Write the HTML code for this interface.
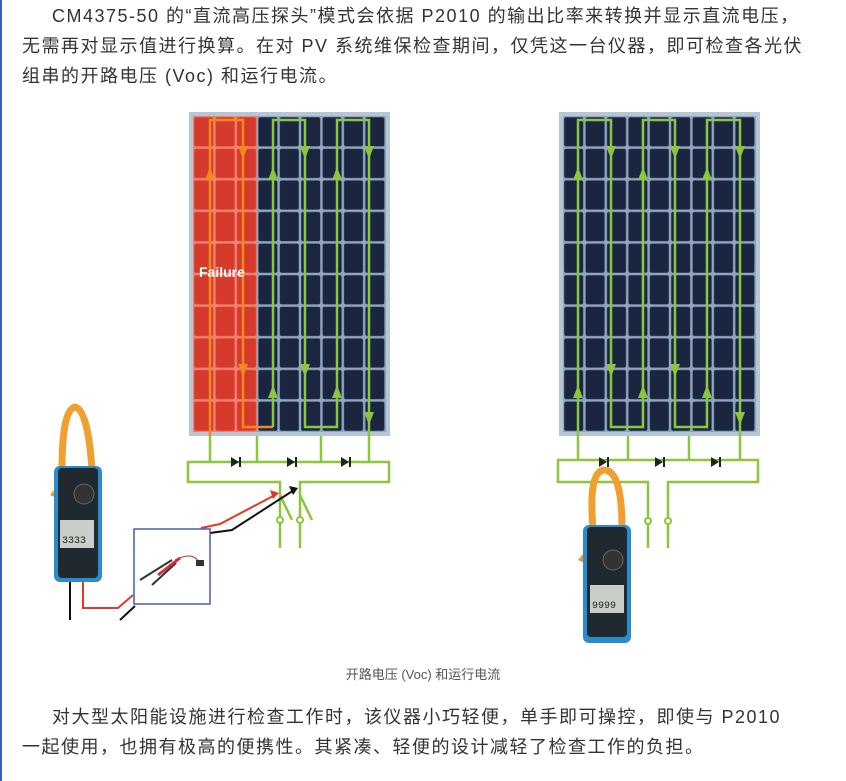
<!DOCTYPE html>
<html><head><meta charset="utf-8"><style>
body{margin:0;width:846px;height:781px;background:#fff;position:relative;overflow:hidden;font-family:"Liberation Sans","Noto Sans CJK SC",sans-serif;color:#333}
.bar{position:absolute;left:0;top:0;width:2px;height:781px;background:#3b5fc0}
p{position:absolute;left:22px;margin:0;font-size:18px;line-height:30px;letter-spacing:1.5px;white-space:nowrap}
.cap{position:absolute;top:664px;left:0;width:846px;text-align:center;font-size:13px;color:#555}
</style></head><body>
<div class="bar"></div>
<p style="top:1px;width:820px">&emsp;&ensp;CM4375-50 的“直流高压探头”模式会依据 P2010 的输出比率来转换并显示直流电压，<br>无需再对显示值进行换算。在对 PV 系统维保检查期间，仅凭这一台仪器，即可检查各光伏<br>组串的开路电压 (Voc) 和运行电流。</p>
<svg style="position:absolute;left:0;top:0" width="846" height="781">
<defs>
<pattern id="gd" x="193" y="116" width="21.4" height="31.6" patternUnits="userSpaceOnUse"><rect width="21.4" height="31.6" fill="#8fa6bf"/><rect x="1.2" y="1.2" width="19" height="29.2" rx="2" fill="#1a2540"/></pattern>
<pattern id="gr" x="193" y="116" width="21.4" height="31.6" patternUnits="userSpaceOnUse"><rect width="21.4" height="31.6" fill="#f08070"/><rect x="1.2" y="1.2" width="19" height="29.2" rx="2" fill="#d63a2c"/></pattern>
<pattern id="gd2" x="563" y="116" width="21.4" height="31.6" patternUnits="userSpaceOnUse"><rect width="21.4" height="31.6" fill="#8fa6bf"/><rect x="1.2" y="1.2" width="19" height="29.2" rx="2" fill="#1a2540"/></pattern>
</defs>
<rect x="189" y="112" width="201" height="324" fill="#b7c6d4"/>
<rect x="193" y="116" width="64" height="316" fill="url(#gr)"/>
<rect x="257" y="116" width="129" height="316" fill="url(#gd)"/>
<g fill="none" stroke-width="2.5">
<path d="M210 436V120H243V427H273" stroke="#f08a1e"/>
<path d="M273 427V120H305V427H337V120H369V436" stroke="#8cc63f"/>
</g>
<text x="199" y="277" font-size="14" font-weight="bold" fill="#fff" font-family="Liberation Sans">Failure</text>
<g fill="#f08a1e"><path d="M205 180l5-13 5 13z"/><path d="M238 146l5 13 5-13z"/><path d="M238 364l5 13 5-13z"/></g>
<g fill="#8cc63f"><path d="M268 180l5-13 5 13z"/><path d="M300 146l5 13 5-13z"/><path d="M332 180l5-13 5 13z"/><path d="M364 146l5 13 5-13z"/><path d="M268 398l5-13 5 13z"/><path d="M300 364l5 13 5-13z"/><path d="M332 398l5-13 5 13z"/><path d="M364 412l5 13 5-13z"/></g>
<g fill="none" stroke="#8cc63f" stroke-width="2.5">
<path d="M210 436V462M257 436V462M321 436V462M369 436V462"/>
<path d="M280 548V482H188V462H389V482H300V548"/>
<path d="M280 495L292 520M300 495L312 520"/>
</g>
<circle cx="280" cy="520" r="3" fill="#fff" stroke="#8cc63f" stroke-width="2"/><circle cx="300" cy="520" r="3" fill="#fff" stroke="#8cc63f" stroke-width="2"/>
<g fill="#222"><path d="M231 457v10l8-5z"/><rect x="239" y="457" width="2" height="10"/><path d="M287 457v10l8-5z"/><rect x="295" y="457" width="2" height="10"/><path d="M341 457v10l8-5z"/><rect x="349" y="457" width="2" height="10"/></g>
<rect x="559" y="112" width="201" height="324" fill="#b7c6d4"/>
<rect x="563" y="116" width="193" height="316" fill="url(#gd2)"/>
<g fill="none" stroke-width="2.5" stroke="#8cc63f">
<path d="M578 460V120H611V427H643V120H675V427H707V120H740V460"/>
<path d="M628 436V460M689 436V460"/>
<path d="M648 548V482H558V460H758V482H668V548"/>
</g>
<g fill="#8cc63f"><path d="M573 180l5-13 5 13z"/><path d="M606 146l5 13 5-13z"/><path d="M638 180l5-13 5 13z"/><path d="M670 146l5 13 5-13z"/><path d="M702 180l5-13 5 13z"/><path d="M735 146l5 13 5-13z"/><path d="M573 398l5-13 5 13z"/><path d="M606 364l5 13 5-13z"/><path d="M638 398l5-13 5 13z"/><path d="M670 364l5 13 5-13z"/><path d="M702 398l5-13 5 13z"/><path d="M735 412l5 13 5-13z"/></g>
<circle cx="648" cy="521" r="3" fill="#fff" stroke="#8cc63f" stroke-width="2"/><circle cx="668" cy="521" r="3" fill="#fff" stroke="#8cc63f" stroke-width="2"/>
<g fill="#222"><path d="M599 457v10l8-5z"/><rect x="607" y="457" width="2" height="10"/><path d="M655 457v10l8-5z"/><rect x="663" y="457" width="2" height="10"/><path d="M711 457v10l8-5z"/><rect x="719" y="457" width="2" height="10"/></g>
<path d="M70 581V620" stroke="#111" stroke-width="2" fill="none"/>
<path d="M83 560V608H118L133 595" stroke="#e03a2a" stroke-width="2" fill="none"/>
<path d="M120 620L135 606" stroke="#111" stroke-width="2" fill="none"/>
<path d="M201 528L220 524L275 495" stroke="#e03a2a" stroke-width="2" fill="none"/><path d="M270 490l9 3-6 6z" fill="#e03a2a"/>
<path d="M210 533L232 530L294 490" stroke="#111" stroke-width="2" fill="none"/><path d="M289 486l9 2-5 7z" fill="#111"/>
<rect x="134" y="529" width="76" height="75" fill="#fff" stroke="#4a5bb0" stroke-width="1.5"/>
<path d="M140 580L172 560M152 585L176 563" stroke="#333" stroke-width="2"/><path d="M158 575L180 558" stroke="#d03030" stroke-width="3"/><path d="M175 560Q195 550 200 565" stroke="#c03030" fill="none"/><rect x="196" y="560" width="8" height="6" fill="#333"/>
<path d="M62 470Q62 410 75 407Q88 410 92 470" stroke="#f0a030" stroke-width="7" fill="none"/>
<path d="M50 495l8-10 3 15z" fill="#e89a30"/>
<rect x="54" y="466" width="48" height="116" rx="6" fill="#2a8ccc"/>
<rect x="58" y="468" width="40" height="110" rx="4" fill="#202830"/>
<circle cx="84" cy="494" r="10" fill="#333" stroke="#666"/>
<rect x="60" y="520" width="34" height="28" fill="#c8cfc8"/>
<text x="62" y="543" font-size="10" fill="#222" font-family="Liberation Mono">3333</text>
<path d="M593 528Q588 470 605 470Q622 472 622 528" stroke="#f0a030" stroke-width="7" fill="none"/>
<path d="M578 560l10-12 2 18z" fill="#e89a30"/>
<rect x="583" y="525" width="48" height="118" rx="6" fill="#2a8ccc"/>
<rect x="587" y="527" width="40" height="110" rx="4" fill="#202830"/>
<circle cx="613" cy="560" r="10" fill="#333" stroke="#666"/>
<rect x="590" y="585" width="34" height="28" fill="#c8cfc8"/>
<text x="592" y="608" font-size="10" fill="#222" font-family="Liberation Mono">9999</text>
</svg>
<div class="cap">开路电压 (Voc) 和运行电流</div>
<p style="top:702px;width:820px">&emsp;&ensp;对大型太阳能设施进行检查工作时，该仪器小巧轻便，单手即可操控，即使与 P2010<br>一起使用，也拥有极高的便携性。其紧凑、轻便的设计减轻了检查工作的负担。</p>
</body></html>
